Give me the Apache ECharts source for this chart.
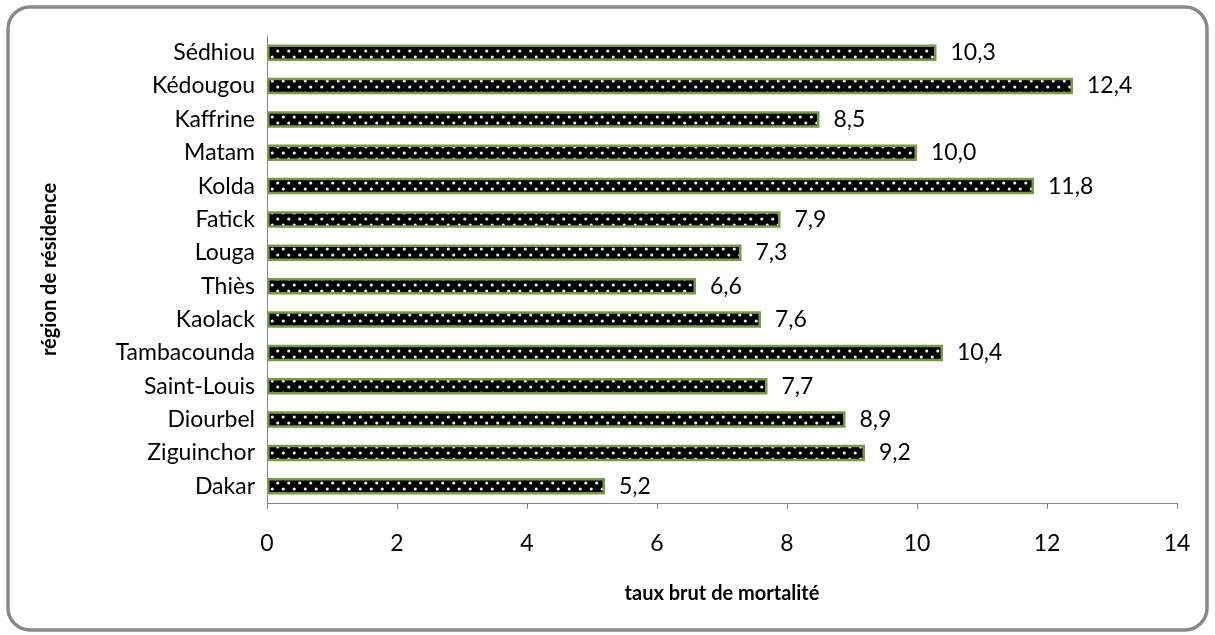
<!DOCTYPE html>
<html>
<head>
<meta charset="utf-8">
<script src="https://cdn.jsdelivr.net/npm/echarts@6/dist/echarts.min.js"></script>
<style>
  html, body { margin: 0; padding: 0; background: #fff; }
  #chart { width: 1215px; height: 635px; }
</style>
</head>
<body>
<div id="chart"></div>
<script>
// Regions, listed top to bottom
const regions = ['Sédhiou', 'Kédougou', 'Kaffrine', 'Matam', 'Kolda', 'Fatick', 'Louga',
  'Thiès', 'Kaolack', 'Tambacounda', 'Saint-Louis', 'Diourbel', 'Ziguinchor', 'Dakar'];
// Crude death rate per region
const rates = [10.3, 12.4, 8.5, 10.0, 11.8, 7.9, 7.3, 6.6, 7.6, 10.4, 7.7, 8.9, 9.2, 5.2];
// Horizontal axis range
const xMin = 0, xMax = 14, xStep = 2;

const FONT = 'Lato, "Open Sans", sans-serif';

// Black fill with a staggered grid of small white dots
function dottedTile() {
  const c = document.createElement('canvas');
  c.width = 11; c.height = 12;
  const g = c.getContext('2d');
  g.fillStyle = '#000';
  g.fillRect(0, 0, 11, 12);
  g.fillStyle = '#f2f2f2';
  [[2.75, 3], [8.25, 9]].forEach(([x, y]) => {
    g.beginPath();
    g.arc(x, y, 1.55, 0, Math.PI * 2);
    g.fill();
  });
  return c;
}

const chart = echarts.init(document.getElementById('chart'), null, { renderer: 'canvas' });

chart.setOption({
  animation: false,
  backgroundColor: '#ffffff',
  graphic: [{
    type: 'rect',
    shape: { x: 8, y: 7, width: 1199, height: 623, r: 22 },
    style: { fill: 'none', stroke: '#898989', lineWidth: 3.5 },
    silent: true
  }],
  grid: { left: 267, right: 38, top: 36, bottom: 132, containLabel: false },
  xAxis: {
    type: 'value',
    min: xMin, max: xMax, interval: xStep,
    name: 'taux brut de mortalité',
    nameLocation: 'middle',
    nameGap: 81,
    nameTextStyle: { fontFamily: FONT, fontWeight: 'bold', fontSize: 20, color: '#000' },
    axisLine: { show: true, lineStyle: { color: '#868686', width: 1 } },
    axisTick: { show: true, length: 6, lineStyle: { color: '#868686' } },
    splitLine: { show: false },
    axisLabel: { fontFamily: FONT, fontSize: 23, color: '#000', margin: 29 }
  },
  yAxis: {
    type: 'category',
    data: regions,
    inverse: true,
    name: 'région de résidence',
    nameLocation: 'middle',
    nameGap: 207,
    nameRotate: 90,
    nameTextStyle: { fontFamily: FONT, fontWeight: 'bold', fontSize: 20, color: '#000' },
    axisLine: { show: true, lineStyle: { color: '#868686', width: 1 } },
    axisTick: { show: false },
    axisLabel: { fontFamily: FONT, fontSize: 23, color: '#000', margin: 12 }
  },
  series: [{
    type: 'bar',
    data: rates,
    barWidth: 16.5,
    itemStyle: {
      color: { image: dottedTile(), repeat: 'repeat' },
      borderColor: '#7A9A40',
      borderWidth: 2.5
    },
    label: {
      show: true,
      position: 'right',
      distance: 14,
      fontFamily: FONT,
      fontSize: 23,
      color: '#000',
      formatter: p => p.value.toFixed(1).replace('.', ',')
    }
  }]
});
</script>
</body>
</html>
